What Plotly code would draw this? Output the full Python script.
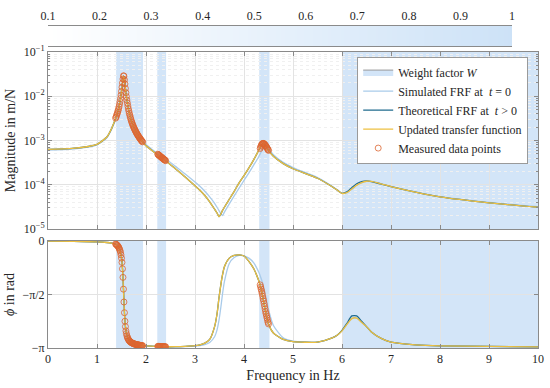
import numpy as np
import plotly.graph_objects as go

# ---------------- data ----------------
freq = [0, 0.5, 1.0, 1.2, 1.3, 1.4, 1.45, 1.5, 1.52, 1.54, 1.56, 1.58, 1.6, 1.65, 1.7,
        1.8, 1.9, 2.0, 2.2, 2.4, 2.6, 2.8, 3.0, 3.1, 3.2, 3.3, 3.4, 3.45, 3.49, 3.53,
        3.56, 3.6, 3.7, 3.8, 3.9, 4.0, 4.1, 4.2, 4.3, 4.35, 4.39, 4.45, 4.5, 4.6, 4.8,
        5.0, 5.5, 5.8, 5.9, 6.0, 6.1, 6.2, 6.3, 6.4, 6.5, 6.6, 6.8, 7.0, 7.5, 8.0, 9.0, 10.0]

sim_mag = [6.1e-4, 6.4e-4, 8.0e-4, 1.15e-3, 1.8e-3, 3.4e-3, 5.4e-3, 1.2e-2, 1.9e-2, 2.85e-2,
           2.45e-2, 1.6e-2, 1.05e-2, 4.9e-3, 2.95e-3, 1.6e-3, 1.08e-3, 8.1e-4, 5.4e-4, 3.85e-4,
           2.6e-4, 1.75e-4, 1.15e-4, 9.2e-5, 7.1e-5, 5.3e-5, 3.8e-5, 3.1e-5, 2.6e-5, 2.2e-5,
           2.0e-5, 2.4e-5, 3.7e-5, 5.6e-5, 8.4e-5, 1.25e-4, 1.85e-4, 2.8e-4, 4.3e-4, 5.5e-4,
           6.6e-4, 7.6e-4, 6.6e-4, 4.8e-4, 3.2e-4, 2.45e-4, 1.45e-4, 9.2e-5, 7.7e-5, 6.5e-5,
           6.6e-5, 7.9e-5, 9.6e-5, 1.1e-4, 1.19e-4, 1.19e-4, 1.06e-4, 9.2e-5, 6.9e-5, 5.4e-5,
           4.0e-5, 3.2e-5]

theo_mag = [6.3e-4, 6.6e-4, 8.2e-4, 1.2e-3, 1.9e-3, 3.7e-3, 5.8e-3, 1.29e-2, 2.0e-2, 2.9e-2,
            2.35e-2, 1.5e-2, 9.8e-3, 4.6e-3, 2.8e-3, 1.52e-3, 1.02e-3, 7.6e-4, 5.1e-4, 3.5e-4,
            2.3e-4, 1.5e-4, 9.5e-5, 7.5e-5, 5.7e-5, 4.1e-5, 2.8e-5, 2.3e-5, 1.9e-5, 2.2e-5,
            2.6e-5, 3.1e-5, 4.7e-5, 7.1e-5, 1.1e-4, 1.6e-4, 2.4e-4, 3.7e-4, 6.0e-4, 7.6e-4,
            8.6e-4, 7.4e-4, 5.95e-4, 4.4e-4, 3.0e-4, 2.3e-4, 1.4e-4, 9.0e-5, 7.6e-5, 6.4e-5,
            6.9e-5, 8.6e-5, 1.05e-4, 1.17e-4, 1.22e-4, 1.18e-4, 1.03e-4, 9.1e-5, 6.8e-5, 5.3e-5,
            3.9e-5, 3.1e-5]

upd_mag = [6.3e-4, 6.6e-4, 8.2e-4, 1.2e-3, 1.9e-3, 3.7e-3, 5.8e-3, 1.29e-2, 2.0e-2, 2.9e-2,
           2.35e-2, 1.5e-2, 9.8e-3, 4.6e-3, 2.8e-3, 1.52e-3, 1.02e-3, 7.6e-4, 5.1e-4, 3.5e-4,
           2.3e-4, 1.5e-4, 9.5e-5, 7.5e-5, 5.7e-5, 4.1e-5, 2.8e-5, 2.3e-5, 1.9e-5, 2.2e-5,
           2.6e-5, 3.1e-5, 4.7e-5, 7.1e-5, 1.1e-4, 1.6e-4, 2.4e-4, 3.7e-4, 6.0e-4, 7.6e-4,
           8.6e-4, 7.4e-4, 5.95e-4, 4.4e-4, 3.0e-4, 2.3e-4, 1.4e-4, 9.0e-5, 7.6e-5, 6.4e-5,
           6.6e-5, 8.0e-5, 9.8e-5, 1.12e-4, 1.2e-4, 1.19e-4, 1.05e-4, 9.1e-5, 6.8e-5, 5.3e-5,
           3.9e-5, 3.1e-5]

# phase in units of pi
sim_phase = [0.0, -0.003, -0.008, -0.013, -0.018, -0.03, -0.055, -0.13, -0.21, -0.40,
             -0.64, -0.79, -0.86, -0.925, -0.948, -0.966, -0.975, -0.98, -0.985, -0.988,
             -0.989, -0.988, -0.983, -0.978, -0.968, -0.948, -0.895, -0.83, -0.74, -0.61,
             -0.50, -0.38, -0.21, -0.155, -0.135, -0.138, -0.16, -0.205, -0.29, -0.35,
             -0.41, -0.53, -0.64, -0.79, -0.905, -0.935, -0.945, -0.905, -0.88, -0.84,
             -0.78, -0.725, -0.72, -0.76, -0.80, -0.85, -0.91, -0.945, -0.97, -0.98,
             -0.985, -0.99]

theo_phase = [0.0, -0.003, -0.008, -0.014, -0.02, -0.035, -0.066, -0.16, -0.26, -0.45,
              -0.67, -0.80, -0.865, -0.927, -0.949, -0.967, -0.976, -0.98, -0.985, -0.988,
              -0.988, -0.985, -0.978, -0.97, -0.955, -0.92, -0.80, -0.68, -0.53, -0.40,
              -0.32, -0.24, -0.16, -0.135, -0.13, -0.14, -0.19, -0.26, -0.37, -0.45,
              -0.54, -0.68, -0.775, -0.86, -0.92, -0.94, -0.945, -0.905, -0.88, -0.835,
              -0.77, -0.70, -0.70, -0.75, -0.80, -0.85, -0.91, -0.945, -0.97, -0.98,
              -0.985, -0.99]

upd_phase = [0.0, -0.003, -0.008, -0.014, -0.02, -0.035, -0.066, -0.16, -0.26, -0.45,
             -0.67, -0.80, -0.865, -0.927, -0.949, -0.967, -0.976, -0.98, -0.985, -0.988,
             -0.988, -0.985, -0.978, -0.97, -0.955, -0.92, -0.80, -0.68, -0.53, -0.40,
             -0.32, -0.24, -0.16, -0.135, -0.13, -0.14, -0.19, -0.26, -0.37, -0.45,
             -0.54, -0.68, -0.775, -0.86, -0.92, -0.94, -0.945, -0.905, -0.88, -0.84,
             -0.78, -0.725, -0.72, -0.76, -0.80, -0.85, -0.91, -0.945, -0.97, -0.98,
             -0.985, -0.99]

meas_freq = [1.38, 1.39, 1.40, 1.41, 1.42, 1.43, 1.44, 1.45, 1.46, 1.47, 1.48, 1.49, 1.50,
             1.51, 1.52, 1.53, 1.54, 1.55, 1.56, 1.57, 1.58, 1.59, 1.60, 1.61, 1.62, 1.63,
             1.64, 1.65, 1.66, 1.67, 1.68, 1.69, 1.70, 1.71, 1.72, 1.73, 1.74, 1.75, 1.76,
             1.77, 1.78, 1.79, 1.80, 1.81, 1.82, 1.83, 1.84, 1.85, 1.86, 1.87, 1.88, 1.89,
             1.90, 1.91, 1.92, 1.93,
             2.24, 2.25, 2.26, 2.27, 2.28, 2.29, 2.30, 2.31, 2.32, 2.33, 2.34, 2.35, 2.36,
             2.37, 2.38, 2.39, 2.40,
             4.33, 4.34, 4.35, 4.36, 4.37, 4.38, 4.39, 4.40, 4.41, 4.42, 4.43, 4.44, 4.45,
             4.46, 4.47, 4.48, 4.49, 4.50]

meas_mag = [3.2e-3, 3.4e-3, 3.7e-3, 4.0e-3, 4.3e-3, 4.7e-3, 5.2e-3, 5.8e-3, 6.6e-3, 7.6e-3,
            8.9e-3, 1.06e-2, 1.29e-2, 1.6e-2, 2.0e-2, 2.45e-2, 2.9e-2, 2.85e-2, 2.35e-2, 1.9e-2,
            1.5e-2, 1.2e-2, 9.8e-3, 8.2e-3, 7.0e-3, 6.0e-3, 5.2e-3, 4.6e-3, 4.1e-3, 3.7e-3,
            3.35e-3, 3.05e-3, 2.8e-3, 2.6e-3, 2.4e-3, 2.25e-3, 2.1e-3, 1.98e-3, 1.87e-3, 1.77e-3,
            1.68e-3, 1.6e-3, 1.52e-3, 1.45e-3, 1.39e-3, 1.33e-3, 1.28e-3, 1.23e-3, 1.18e-3, 1.14e-3,
            1.10e-3, 1.06e-3, 1.02e-3, 9.9e-4, 9.6e-4, 9.3e-4,
            4.9e-4, 4.8e-4, 4.7e-4, 4.6e-4, 4.5e-4, 4.4e-4, 4.3e-4, 4.2e-4, 4.12e-4, 4.04e-4,
            3.96e-4, 3.88e-4, 3.8e-4, 3.72e-4, 3.65e-4, 3.58e-4, 3.5e-4,
            6.6e-4, 7.1e-4, 7.6e-4, 8.0e-4, 8.35e-4, 8.55e-4, 8.6e-4, 8.55e-4, 8.4e-4, 8.2e-4,
            7.95e-4, 7.7e-4, 7.4e-4, 7.1e-4, 6.8e-4, 6.5e-4, 6.2e-4, 5.95e-4]

meas_phase = [-0.028, -0.031, -0.035, -0.039, -0.044, -0.05, -0.057, -0.066, -0.077, -0.09,
              -0.107, -0.13, -0.16, -0.20, -0.26, -0.34, -0.45, -0.57, -0.67, -0.75,
              -0.80, -0.84, -0.865, -0.885, -0.90, -0.91, -0.92, -0.927, -0.933, -0.938,
              -0.942, -0.946, -0.949, -0.952, -0.954, -0.956, -0.958, -0.96, -0.962, -0.963,
              -0.965, -0.966, -0.967, -0.968, -0.969, -0.97, -0.971, -0.972, -0.973, -0.974,
              -0.975, -0.976, -0.976, -0.977, -0.978, -0.978,
              -0.985, -0.985, -0.985, -0.986, -0.986, -0.986, -0.987, -0.987, -0.987, -0.987,
              -0.988, -0.988, -0.988, -0.988, -0.988, -0.988, -0.988,
              -0.41, -0.43, -0.45, -0.47, -0.49, -0.515, -0.54, -0.56, -0.585, -0.61,
              -0.635, -0.66, -0.68, -0.70, -0.72, -0.74, -0.76, -0.775]

weight_bands = [(1.39, 1.94), (2.23, 2.41), (4.31, 4.52), (6.0, 10.0)]
weight_ticks = [0.1, 0.2, 0.3, 0.4, 0.5, 0.6, 0.7, 0.8, 0.9, 1.0]
weight_ticktext = ["0.1", "0.2", "0.3", "0.4", "0.5", "0.6", "0.7", "0.8", "0.9", "1"]
mag_ticks = [1e-5, 1e-4, 1e-3, 1e-2, 1e-1]
mag_ticktext = ["10<sup>−5</sup>", "10<sup>−4</sup>", "10<sup>−3</sup>", "10<sup>−2</sup>", "10<sup>−1</sup>"]
phase_ticks = [-np.pi, -np.pi / 2, 0]
phase_ticktext = ["−π", "−π/2", "0"]

# ---------------- styling ----------------
C_SIM = "#a9cbea"
C_THEO = "#1f6b8e"
C_UPD = "#eec040"
C_MEAS = "#dc6430"
C_BAND = "#d3e5f8"
AX = "#8a8a8a"
GRID = "#e3e3e3"
FONT = "Liberation Serif"

fig = go.Figure()

# legend-only item for the weight bands
fig.add_trace(go.Scatter(x=[None], y=[None], mode="lines", fill="toself",
                         fillcolor=C_BAND, line=dict(color="#9a9a9a", width=1),
                         name="Weight factor <i>W</i>", xaxis="x", yaxis="y"))

def rad(v):
    return [p * np.pi for p in v]

series = [
    ("Simulated FRF at  <i>t</i> = 0", C_SIM, sim_mag, sim_phase),
    ("Theoretical FRF at  <i>t</i> > 0", C_THEO, theo_mag, theo_phase),
    ("Updated transfer function", C_UPD, upd_mag, upd_phase),
]
for name, col, m, p in series:
    fig.add_trace(go.Scatter(x=freq, y=m, mode="lines", name=name,
                             line=dict(color=col, width=1.3, shape="spline", smoothing=0.6),
                             xaxis="x", yaxis="y", legendgroup=name))
    fig.add_trace(go.Scatter(x=freq, y=rad(p), mode="lines", name=name, showlegend=False,
                             line=dict(color=col, width=1.3, shape="spline", smoothing=0.6),
                             xaxis="x2", yaxis="y2", legendgroup=name))

meas_marker = dict(symbol="circle-open", size=6, color=C_MEAS, line=dict(width=0.8, color=C_MEAS))
fig.add_trace(go.Scatter(x=meas_freq, y=meas_mag, mode="markers", name="Measured data points",
                         marker=meas_marker, xaxis="x", yaxis="y", legendgroup="meas"))
fig.add_trace(go.Scatter(x=meas_freq, y=rad(meas_phase), mode="markers", showlegend=False,
                         marker=meas_marker, xaxis="x2", yaxis="y2", legendgroup="meas"))

# colour bar for the weight factor
fig.add_trace(go.Heatmap(x=weight_ticks, y=[0.5], z=[weight_ticks], zmin=0.1, zmax=1.0,
                         colorscale=[[0, "#ffffff"], [1, "#cde2f7"]], zsmooth="best",
                         showscale=False, hoverinfo="skip", xaxis="x3", yaxis="y3"))

shapes = []
for a, b in weight_bands:
    for xr, yr in (("x", "y domain"), ("x2", "y2 domain")):
        shapes.append(dict(type="rect", xref=xr, yref=yr, x0=a, x1=b, y0=0, y1=1,
                           fillcolor=C_BAND, line=dict(width=0), layer="below"))

axis_common = dict(showline=True, linecolor=AX, linewidth=1, mirror="ticks",
                   ticks="inside", ticklen=4, tickcolor=AX, zeroline=False,
                   showgrid=True, gridcolor=GRID, gridwidth=1, automargin=False)

fig.update_layout(
    width=550, height=388,
    margin=dict(l=48, r=12, t=26, b=40),
    paper_bgcolor="white", plot_bgcolor="rgba(0,0,0,0)",
    font=dict(family=FONT, size=12, color="#262626"),
    shapes=shapes,
    showlegend=True,
    legend=dict(x=0.98, y=0.905, xanchor="right", yanchor="top",
                bgcolor="white", bordercolor="#9a9a9a", borderwidth=1,
                font=dict(family=FONT, size=12, color="#262626"),
                tracegroupgap=0, itemwidth=30),
    xaxis=dict(domain=[0, 1], anchor="y", range=[0, 10], dtick=1,
               showticklabels=False, **axis_common),
    yaxis=dict(domain=[0.3696, 0.9193], anchor="x", type="log", range=[-5, -1],
               tickvals=mag_ticks, ticktext=mag_ticktext,
               title=dict(text="Magnitude in m/N", standoff=4),
               minor=dict(ticks="inside", ticklen=2, tickcolor=AX, showgrid=True,
                          gridcolor="#f0f0f0", griddash="dot", dtick="D1"),
               **axis_common),
    xaxis2=dict(domain=[0, 1], anchor="y2", range=[0, 10], dtick=1,
                title=dict(text="Frequency in Hz", standoff=4), **axis_common),
    yaxis2=dict(domain=[0, 0.3323], anchor="x2", range=[-np.pi, 0],
                tickvals=phase_ticks, ticktext=phase_ticktext,
                title=dict(text="<i>ϕ</i> in rad", standoff=4), **axis_common),
    xaxis3=dict(domain=[0, 0.947], anchor="y3", range=[0.1, 1.0], side="top",
                tickvals=weight_ticks, ticktext=weight_ticktext,
                ticks="", showline=True, mirror=True, linecolor=AX, showgrid=False,
                zeroline=False, automargin=False),
    xaxis4=dict(overlaying="x3", anchor="y3", range=[0.1, 1.0], side="bottom",
                tickvals=weight_ticks[1:-1], ticks="inside", ticklen=4, tickcolor=AX,
                showticklabels=False, showgrid=False, showline=False, zeroline=False,
                automargin=False),
    yaxis3=dict(domain=[0.9379, 1.0], anchor="x3", range=[0, 1], showticklabels=False,
                ticks="", showgrid=False, zeroline=False, showline=False, automargin=False),
)

fig.write_html("out.html", config={"displayModeBar": False},
               post_script="document.body.style.margin='0px';document.body.style.overflow='hidden';")
